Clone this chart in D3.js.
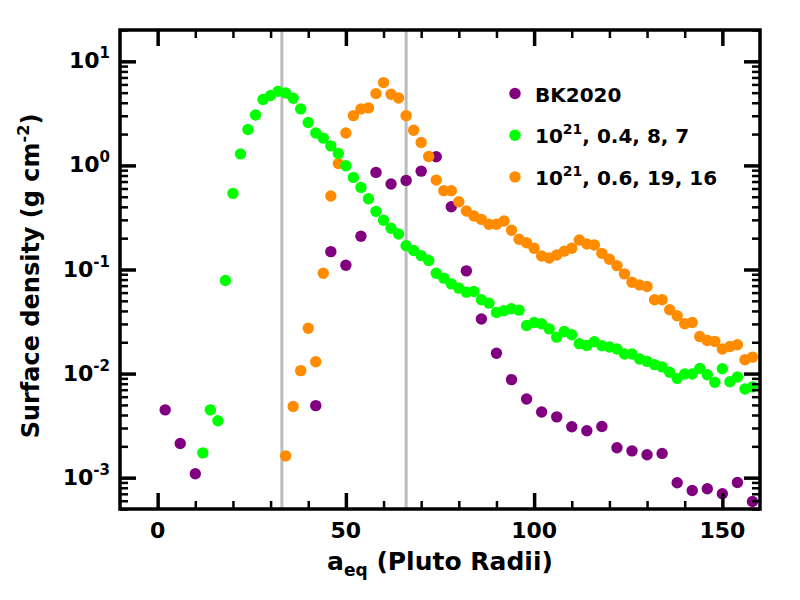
<!DOCTYPE html>
<html>
<head>
<meta charset="utf-8">
<script src="https://cdn.jsdelivr.net/npm/d3@7"></script>
<style>
  body { margin: 0; background: #fff; }
  svg { font-family: "DejaVu Sans", sans-serif; font-weight: bold; }
</style>
</head>
<body>
<div id="chart"></div>
<script>
// BK2020 points (a_eq in Pluto radii, surface density in g/cm^2)
const bkX = [2, 6, 10, 42, 46, 50, 54, 58, 62, 66, 70, 74, 78, 82, 86, 90, 94, 98, 102, 106,
    110, 114, 118, 122, 126, 130, 134, 138, 142, 146, 150, 154, 158]
const bkY = [4.48e-3, 2.13e-3, 1.09e-3, 4.92e-3, 0.1485, 0.110, 0.2085, 0.857, 0.662, 0.718,
    0.881, 1.21, 0.401, 0.097, 0.0334, 0.0157, 8.75e-3, 5.7e-3, 4.28e-3, 3.84e-3,
    3.08e-3, 2.82e-3, 3.10e-3, 1.94e-3, 1.81e-3, 1.66e-3, 1.71e-3, 8.93e-4, 7.53e-4, 7.83e-4,
    7.02e-4, 9.0e-4, 5.9e-4]

// 10^21, 0.4, 8, 7
const greenX = [12, 14, 16, 18, 20, 22, 24, 26, 28, 30, 32, 34, 36, 38, 40, 42, 44, 46, 48, 50,
    52, 54, 56, 58, 60, 62, 64, 66, 68, 70, 72, 74, 76, 78, 80, 82, 84, 86, 88, 90,
    92, 94, 96, 98, 100, 102, 104, 106, 108, 110, 112, 114, 116, 118, 120, 122, 124, 126, 128, 130,
    132, 134, 136, 138, 140, 142, 144, 146, 148, 150, 152, 154, 156, 158]
const greenY = [1.73e-3, 4.48e-3, 3.52e-3, 0.0783, 0.539, 1.29, 2.21, 3.05, 4.30, 4.69,
    5.15, 4.97, 4.42, 3.49, 2.58, 2.05, 1.83, 1.54, 1.30, 0.991,
    0.767, 0.615, 0.479, 0.362, 0.297, 0.249, 0.219, 0.169, 0.152, 0.136,
    0.122, 0.092, 0.0826, 0.0728, 0.0662, 0.0606, 0.0615, 0.0512, 0.0475, 0.0386,
    0.0401, 0.0419, 0.0407, 0.029, 0.031, 0.0301, 0.0269, 0.0224, 0.0254, 0.0236,
    0.0194, 0.0186, 0.0202, 0.0185, 0.0180, 0.0172, 0.0154, 0.0154, 0.0138, 0.0131,
    0.0122, 0.0116, 0.0103, 0.0090, 0.0099, 0.0099, 0.0112, 0.00975, 0.00824, 0.01114,
    0.00836, 0.00927, 0.0071, 0.00745]

// 10^21, 0.6, 19, 16
const orangeX = [34, 36, 38, 40, 42, 44, 46, 48, 50, 52, 54, 56, 58, 60, 62, 64, 66, 68, 70, 72,
    74, 76, 78, 80, 82, 84, 86, 88, 90, 92, 94, 96, 98, 100, 102, 104, 106, 108, 110, 112,
    114, 116, 118, 120, 122, 124, 126, 128, 130, 132, 134, 136, 138, 140, 142, 144, 146, 148, 150, 152,
    154, 156, 158]
const orangeY = [1.62e-3, 4.82e-3, 0.01067, 0.0273, 0.0130, 0.092, 0.508, 1.045, 2.05, 3.01,
    3.49, 3.57, 4.90, 6.25, 4.83, 4.45, 3.01, 2.18, 1.66, 1.22,
    0.723, 0.572, 0.572, 0.448, 0.365, 0.327, 0.303, 0.272, 0.272, 0.292,
    0.238, 0.195, 0.181, 0.160, 0.135, 0.129, 0.138, 0.150, 0.160, 0.192,
    0.176, 0.172, 0.143, 0.1256, 0.109, 0.0908, 0.0755, 0.0711, 0.0686, 0.0512,
    0.0512, 0.041, 0.0359, 0.0301, 0.031, 0.0227, 0.0208, 0.0204, 0.0172, 0.0182,
    0.0189, 0.0136, 0.0144]

// vertical reference lines
const refLines = [33, 66]

const xMajor = [0, 50, 100, 150]
const xMinor = [10, 20, 30, 40, 60, 70, 80, 90, 110, 120, 130, 140]
const yMajor = [1e-3, 1e-2, 1e-1, 1e0, 1e1]
const yExp = [-3, -2, -1, 0, 1]

const series = [
    { name: 'BK2020', xs: bkX, ys: bkY, color: '#800080' },
    { name: '10^21, 0.4, 8, 7', xs: greenX, ys: greenY, color: '#00ff00' },
    { name: '10^21, 0.6, 19, 16', xs: orangeX, ys: orangeY, color: '#ff8c00' }
]
// orange sits over purple, green over orange
const drawOrder = [0, 2, 1]

const width = 800,
    height = 600,
    margin = { top: 30, right: 40, bottom: 91, left: 120 },
    majorLen = 16,
    minorLen = 8,
    dotR = 5.7

const x = d3.scaleLinear()
    .domain([-10, 160])
    .range([margin.left, width - margin.right])

const y = d3.scaleLog()
    .domain([5e-4, 20])
    .range([height - margin.bottom, margin.top])

// 2..9 minor ticks in every decade that fits the domain
const yMinor = []
for (let e = -4; e <= 1; e++) {
    for (let m = 2; m <= 9; m++) {
        const v = m * Math.pow(10, e)
        if (v >= y.domain()[0] && v <= y.domain()[1]) yMinor.push(v)
    }
}

const svg = d3.select('#chart').append('svg')
    .attr('width', width)
    .attr('height', height)

svg.append('clipPath')
    .attr('id', 'plot-clip')
    .append('rect')
    .attr('x', margin.left)
    .attr('y', margin.top)
    .attr('width', width - margin.left - margin.right)
    .attr('height', height - margin.top - margin.bottom)

svg.append('g')
    .selectAll('line')
    .data(refLines)
    .join('line')
    .attr('x1', d => x(d))
    .attr('x2', d => x(d))
    .attr('y1', margin.top)
    .attr('y2', height - margin.bottom)
    .attr('stroke', '#bbbbbb')
    .attr('stroke-width', 3)

const points = svg.append('g').attr('clip-path', 'url(#plot-clip)')

drawOrder.forEach(i => {
    const s = series[i]
    points.append('g')
        .attr('fill', s.color)
        .selectAll('circle')
        .data(s.xs.map((v, j) => [v, s.ys[j]]))
        .join('circle')
        .attr('cx', d => x(d[0]))
        .attr('cy', d => y(d[1]))
        .attr('r', dotR)
})

// inward ticks on all four sides
function ticks(axis, values, len, w) {
    return g => g
        .call(axis.tickValues(values).tickSizeInner(-len).tickSizeOuter(0).tickFormat(''))
        .call(g => g.select('.domain').remove())
        .call(g => g.selectAll('.tick line').attr('stroke', '#000').attr('stroke-width', w))
}

const bottom = height - margin.bottom,
    right = width - margin.right

svg.append('g').attr('transform', `translate(0,${bottom})`).call(ticks(d3.axisBottom(x), xMinor, minorLen, 2.5))
svg.append('g').attr('transform', `translate(0,${bottom})`).call(ticks(d3.axisBottom(x), xMajor, majorLen, 3.5))
svg.append('g').attr('transform', `translate(0,${margin.top})`).call(ticks(d3.axisTop(x), xMinor, minorLen, 2.5))
svg.append('g').attr('transform', `translate(0,${margin.top})`).call(ticks(d3.axisTop(x), xMajor, majorLen, 3.5))
svg.append('g').attr('transform', `translate(${margin.left},0)`).call(ticks(d3.axisLeft(y), yMinor, minorLen, 2.5))
svg.append('g').attr('transform', `translate(${margin.left},0)`).call(ticks(d3.axisLeft(y), yMajor, majorLen, 3.5))
svg.append('g').attr('transform', `translate(${right},0)`).call(ticks(d3.axisRight(y), yMinor, minorLen, 2.5))
svg.append('g').attr('transform', `translate(${right},0)`).call(ticks(d3.axisRight(y), yMajor, majorLen, 3.5))

// tick labels
svg.append('g')
    .attr('font-size', 22)
    .attr('text-anchor', 'middle')
    .selectAll('text')
    .data(xMajor)
    .join('text')
    .attr('x', d => x(d))
    .attr('y', bottom + 29)
    .text(d => d)

const yLabels = svg.append('g')
    .attr('font-size', 22)
    .attr('text-anchor', 'end')
    .selectAll('text')
    .data(yMajor)
    .join('text')
    .attr('x', margin.left - 10)
    .attr('y', d => y(d) + 7)

yLabels.append('tspan').text('10')
yLabels.append('tspan')
    .attr('font-size', 15)
    .attr('dy', -10)
    .text((d, i) => yExp[i])

// frame
svg.append('rect')
    .attr('x', margin.left)
    .attr('y', margin.top)
    .attr('width', right - margin.left)
    .attr('height', bottom - margin.top)
    .attr('fill', 'none')
    .attr('stroke', '#000')
    .attr('stroke-width', 3.5)

// axis titles
const xTitle = svg.append('text')
    .attr('x', (margin.left + right) / 2)
    .attr('y', 570)
    .attr('font-size', 25)
    .attr('text-anchor', 'middle')
xTitle.append('tspan').text('a')
xTitle.append('tspan').attr('font-size', 17).attr('dy', 6).text('eq')
xTitle.append('tspan').attr('dy', -6).text(' (Pluto Radii)')

const yTitle = svg.append('text')
    .attr('transform', `translate(39,276) rotate(-90)`)
    .attr('font-size', 24)
    .attr('text-anchor', 'middle')
yTitle.append('tspan').text('Surface density (g cm')
yTitle.append('tspan').attr('font-size', 16).attr('dy', -10).text('-2')
yTitle.append('tspan').attr('dy', 10).text(')')

// legend
const legend = svg.append('g')
    .attr('font-size', 20)
    .selectAll('g')
    .data(series)
    .join('g')
    .attr('transform', (d, i) => `translate(515,${93.5 + i * 41.7})`)

legend.append('circle')
    .attr('r', dotR)
    .attr('fill', d => d.color)

legend.each(function (d) {
    const t = d3.select(this).append('text')
        .attr('x', 20)
        .attr('y', 8)
    const parts = d.name.split('^')
    if (parts.length === 1) {
        t.text(d.name)
        return
    }
    const sup = parts[1].match(/^\d+/)[0]
    t.append('tspan').text(parts[0])
    t.append('tspan').attr('font-size', 14).attr('dy', -9).text(sup)
    t.append('tspan').attr('dy', 9).text(parts[1].slice(sup.length))
})
</script>
</body>
</html>
